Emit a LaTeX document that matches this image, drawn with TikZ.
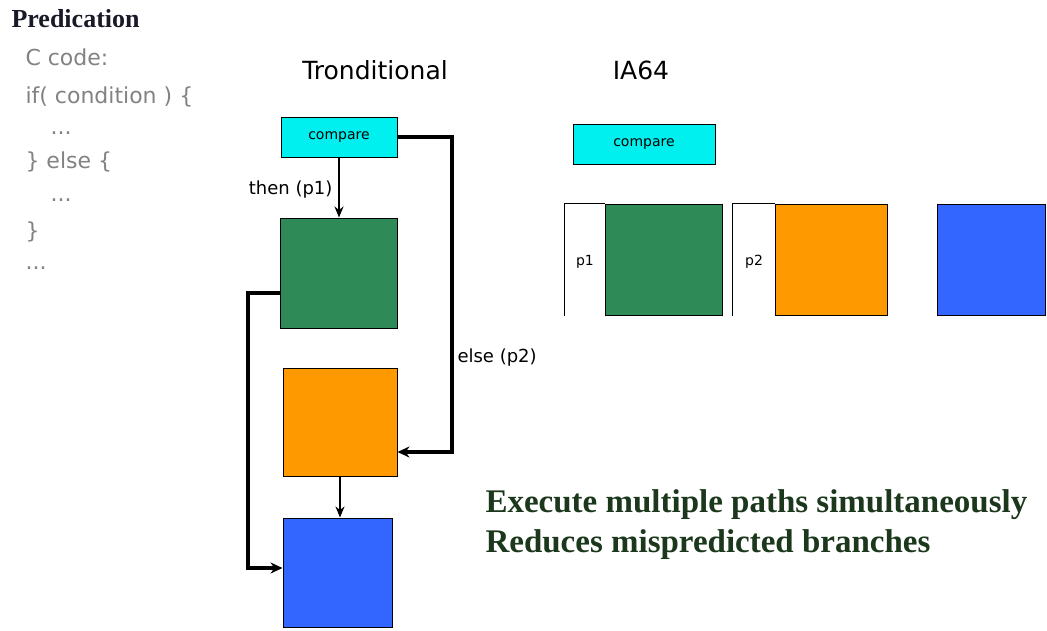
\documentclass[tikz,border=0pt]{standalone}
\usepackage{fontspec}
\setmainfont{Liberation Serif}
\setsansfont{DejaVu Sans}
\usetikzlibrary{arrows.meta,calc}

\definecolor{cmpcyan}{RGB}{0,240,240}
\definecolor{thengreen}{RGB}{46,139,87}
\definecolor{elseorange}{RGB}{255,153,0}
\definecolor{joinblue}{RGB}{51,102,255}
\definecolor{codegray}{RGB}{130,130,130}
\definecolor{notegreen}{RGB}{28,56,28}

\tikzset{
  blockbox/.style={draw=black, line width=1pt, inner sep=0pt},
  cmpbox/.style={blockbox, fill=cmpcyan, minimum height=40pt,
    font=\sffamily\fontsize{14}{16}\selectfont},
  codeline/.style={anchor=west, text=codegray, font=\sffamily\fontsize{22}{26}\selectfont},
  flowlabel/.style={font=\sffamily\fontsize{18}{21}\selectfont},
  heading/.style={font=\sffamily\fontsize{25}{30}\selectfont},
  notetext/.style={anchor=west, text=notegreen, font=\bfseries\fontsize{33}{38}\selectfont},
  thinflow/.style={line width=1.8pt, -{Stealth[length=11pt,width=9pt]}},
  thickflow/.style={line width=4.5pt, -{Stealth[length=12pt,width=11pt]}},
}

\begin{document}
\begin{tikzpicture}[x=1pt, y=-1pt]

  \useasboundingbox (0,0) rectangle (1047,630);

  % -- Left column: source code --
  \node[anchor=west, font=\bfseries\fontsize{26}{30}\selectfont, text={rgb,255:red,25;green,25;blue,40}]
    (title) at (8,19) {Predication};
  \node[codeline] (code1) at (22,57)  {C code:};
  \node[codeline] (code2) at (22,97)  {if( condition ) \{};
  \node[codeline] (code3) at (47,133) {...};
  \node[codeline] (code4) at (22,162) {\} else \{};
  \node[codeline] (code5) at (47,200) {...};
  \node[codeline] (code6) at (22,232) {\}};
  \node[codeline] (code7) at (22,268) {...};

  % -- Headings --
  \node[heading] (tradHead) at (375,70) {Tronditional};
  \node[heading] (iaHead)   at (641,70) {IA64};

  % -- Traditional flow --
  \node[cmpbox, minimum width=116pt] (cmpA) at (339,137) {compare};
  \node[blockbox, fill=thengreen, minimum width=117pt, minimum height=110pt] (thenA) at (338.5,273) {};
  \node[blockbox, fill=elseorange, minimum width=114pt, minimum height=108pt] (elseA) at (340,422) {};
  \node[blockbox, fill=joinblue, minimum width=109pt, minimum height=109pt] (joinA) at (337.5,572.5) {};

  \draw[thinflow] (cmpA.south) -- (cmpA.south |- thenA.north);
  \node[flowlabel, anchor=east] (thenLbl) at (336,190) {then (p1)};
  \draw[thinflow] (elseA.south) -- (elseA.south |- joinA.north);

  \coordinate (elseTurn) at (452,452);
  \draw[thickflow] (cmpA.east) -| (elseTurn) -- (elseA.east |- elseTurn);
  \node[flowlabel, anchor=west] (elseLbl) at (454,358) {else (p2)};

  \coordinate (joinTurn) at (248,568);
  \draw[thickflow] ($(thenA.west)+(0,20)$) -| (joinTurn) -- (joinA.west |- joinTurn);

  % -- IA64 predicated blocks --
  \node[cmpbox, minimum width=142pt] (cmpB) at (644,144) {compare};
  \node[blockbox, fill=thengreen, minimum width=117pt, minimum height=111pt] (thenB) at (663.5,259.5) {};
  \node[blockbox, fill=elseorange, minimum width=112pt, minimum height=111pt] (elseB) at (831,259.5) {};
  \node[blockbox, fill=joinblue, minimum width=108pt, minimum height=111pt] (joinB) at (991,259.5) {};

  \draw[line width=1pt] ([xshift=-40pt]thenB.south west) |- (thenB.north west);
  \draw[line width=1pt] ([xshift=-42pt]elseB.south west) |- (elseB.north west);
  \node[font=\sffamily\fontsize{14}{16}\selectfont] (p1Lbl) at (585,262) {p1};
  \node[font=\sffamily\fontsize{14}{16}\selectfont] (p2Lbl) at (754,262) {p2};

  % -- Notes --
  \node[notetext] (note1) at (482,505) {Execute multiple paths simultaneously};
  \node[notetext] (note2) at (482,545) {Reduces mispredicted branches};

\end{tikzpicture}
\end{document}
